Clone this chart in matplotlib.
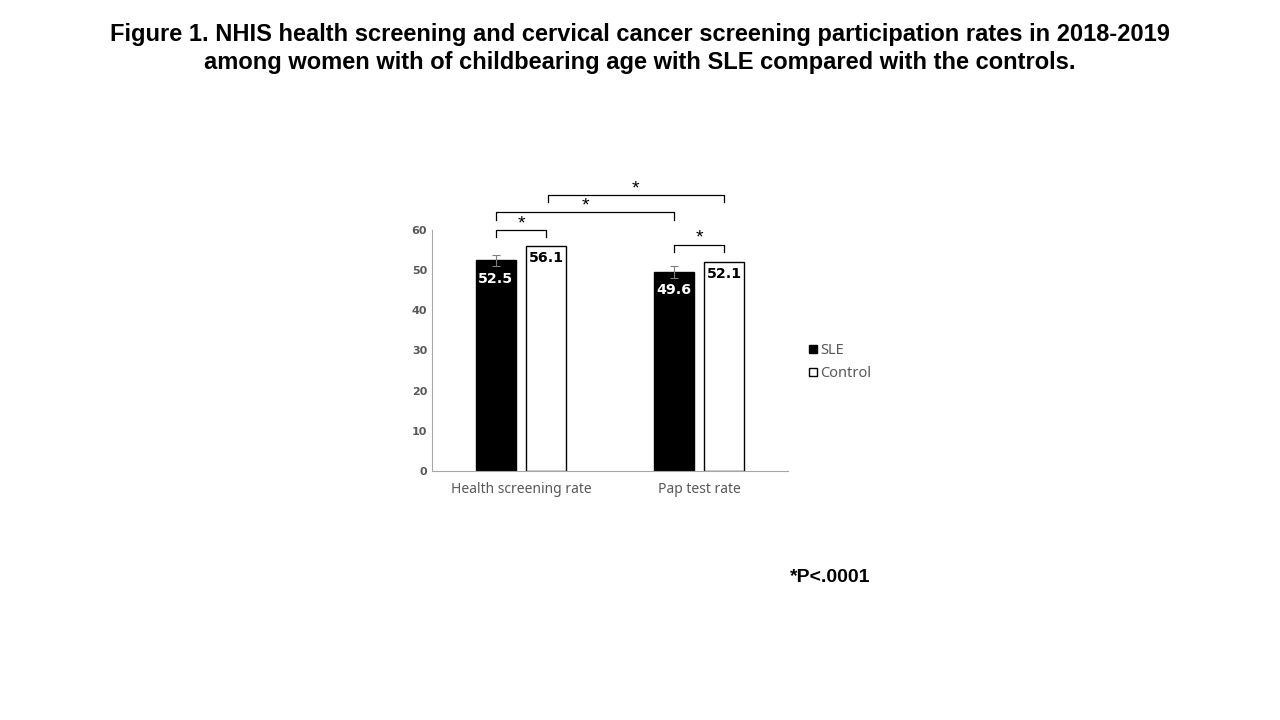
import matplotlib.pyplot as plt
from matplotlib.patches import Patch

categories = ["Health screening rate", "Pap test rate"]
sle = [52.5, 49.6]
control = [56.1, 52.1]
sle_err = [1.4, 1.5]
# significance brackets: (x1, x2, height) in bar-center units
brackets = [(0 - 0.14, 0 + 0.14, 60.0),
            (1 - 0.14, 1 + 0.14, 56.3),
            (0 - 0.14, 1 - 0.14, 64.4),
            (0 + 0.15, 1 + 0.14, 68.7)]
grey = "#595959"
lbl_font = ["Noto Sans", "DejaVu Sans"]
bold_font = ["DejaVu Sans"]

plt.rcParams["font.family"] = ["Liberation Sans", "DejaVu Sans"]

fig = plt.figure(figsize=(12.8, 7.2), dpi=100)
ax = fig.add_axes([432 / 1280, 1 - 471 / 720, 356 / 1280, 241 / 720])

x = list(range(len(categories)))
w = 0.225
off = 0.142
ax.bar([i - off for i in x], sle, w, color="black", edgecolor="black", linewidth=1)
ax.bar([i + off for i in x], control, w, color="white", edgecolor="black", linewidth=1)
ax.errorbar([i - off for i in x], sle, yerr=sle_err, fmt="none", ecolor="#7f7f7f",
            elinewidth=0.8, capsize=3, capthick=0.8)

for i in x:
    ax.text(i - off, sle[i] - 4.6, f"{sle[i]:.1f}", color="white", ha="center", va="center",
            fontsize=10.2, fontweight="bold", family=bold_font)
    ax.text(i + off, control[i] - 3.0, f"{control[i]:.1f}", color="black", ha="center", va="center",
            fontsize=10.2, fontweight="bold", family=bold_font)

for x1, x2, h in brackets:
    ax.plot([x1, x1, x2, x2], [h - 1.8, h, h, h - 1.8], color="black", lw=0.9, clip_on=False)
    ax.text((x1 + x2) / 2, h + 1.6, "*", ha="center", va="center", fontsize=14, clip_on=False)

ax.set_xlim(-0.5, 1.5)
ax.set_ylim(0, 60)
ax.set_yticks(range(0, 61, 10))
ax.set_xticks(x)
ax.set_xticklabels(categories)
ax.tick_params(length=0, colors=grey, labelsize=8)
ax.tick_params(axis="x", pad=8, labelsize=10)
for lab in ax.get_yticklabels():
    lab.set_fontweight("bold")
    lab.set_family(bold_font)
for lab in ax.get_xticklabels():
    lab.set_family(lbl_font)
for s in ["top", "right"]:
    ax.spines[s].set_visible(False)
ax.spines["left"].set_color("#a6a6a6")
ax.spines["bottom"].set_color("#a6a6a6")

handles = [Patch(facecolor="black", edgecolor="black", label="SLE"),
           Patch(facecolor="white", edgecolor="black", label="Control")]
leg = fig.legend(handles=handles, loc="upper left", bbox_to_anchor=(796 / 1280, 1 - 330 / 720),
                 frameon=False, handlelength=0.55, handleheight=0.55, handletextpad=0.2,
                 labelspacing=0.55, prop={"family": lbl_font, "size": 10.5})
for t in leg.get_texts():
    t.set_color(grey)

fig.text(0.5, 1 - 48.5 / 720,
         "Figure 1. NHIS health screening and cervical cancer screening participation rates in 2018-2019\n"
         "among women with of childbearing age with SLE compared with the controls.",
         ha="center", va="center", fontsize=17, fontweight="bold", linespacing=1.32)
fig.text(830 / 1280, 1 - 578 / 720, "*P<.0001", ha="center", va="center", fontsize=14,
         fontweight="bold")

fig.savefig("out.png", dpi=100)
